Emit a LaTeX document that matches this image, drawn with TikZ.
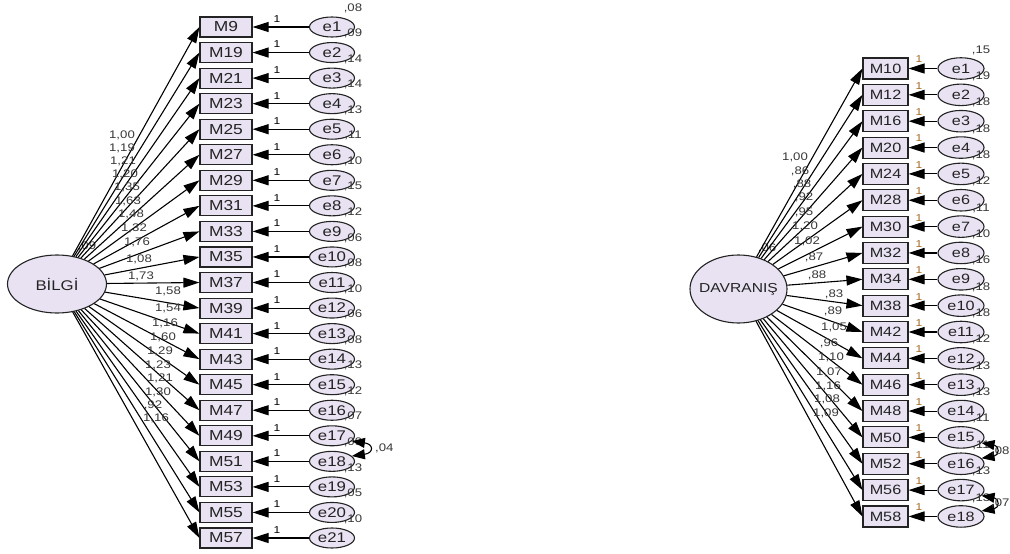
\documentclass[tikz,border=0pt]{standalone}
\usepackage{fontspec}
\setmainfont{Liberation Sans}[FakeStretch=1.2]
\usetikzlibrary{arrows.meta,shapes.geometric}
\definecolor{boxfill}{RGB}{233,226,243}
\definecolor{ink}{RGB}{35,35,35}
\definecolor{lab}{RGB}{55,55,55}
\definecolor{onecol}{RGB}{165,105,35}
\begin{document}
\begin{tikzpicture}[x=1pt,y=-1pt,
  obs/.style={draw=ink,line width=1.1pt,fill=boxfill,minimum width=52pt,minimum height=20pt,inner sep=0pt,text=ink,font=\fontsize{14.5}{14.5}\selectfont},
  obsr/.style={obs,minimum width=45pt,minimum height=21pt,font=\fontsize{13.5}{13.5}\selectfont},
  err/.style={ellipse,draw=ink,line width=1.1pt,fill=boxfill,minimum width=45pt,minimum height=20pt,inner sep=0pt,text=ink,font=\fontsize{14}{14}\selectfont},
  errr/.style={err,minimum width=46pt,minimum height=21.5pt,font=\fontsize{13.5}{13.5}\selectfont},
  lat/.style={ellipse,draw=ink,line width=1.1pt,fill=boxfill,inner sep=0pt,text=ink},
  reg/.style={-{Triangle[length=16pt,width=10pt]},line width=1.1pt,draw=black},
  cov/.style={{Triangle[length=13pt,width=10pt]}-{Triangle[length=13pt,width=10pt]},line width=1.1pt,draw=black},
  coef/.style={inner sep=0pt,text=lab,font=\fontsize{11}{11}\selectfont},
  one/.style={inner sep=0pt,text=black,font=\fontsize{10}{10}\selectfont},
  oner/.style={one,text=onecol},
  var/.style={inner sep=0pt,text=lab,font=\fontsize{11}{11}\selectfont}]
\useasboundingbox (0,0) rectangle (1010,554);

% ---------------- BİLGİ model ----------------
\node[lat,minimum width=99pt,minimum height=58pt,font=\fontsize{14}{14}\selectfont] (bilgi) at (57,284) {BİLGİ};
\node[var] (bilgiv) at (87,246) {,09};

\foreach \i/\m/\e/\v in {0/9/1/08,1/19/2/09,2/21/3/14,3/23/4/14,4/25/5/13,5/27/6/11,6/29/7/10,
  7/31/8/15,8/33/9/12,9/35/10/06,10/37/11/08,11/39/12/10,12/41/13/06,13/43/14/08,
  14/45/15/13,15/47/16/12,16/49/17/07,17/51/18/09,18/53/19/13,19/55/20/05,20/57/21/10}{
  \pgfmathsetmacro\yy{27+25.55*\i}
  \node[obs] (lm\i) at (226,\yy) {M\m};
  \node[err] (le\i) at (332,\yy) {e\e};
  \draw[reg] (bilgi) -- (lm\i.west);
  \draw[reg] (le\i) -- (lm\i);
  \node[one] (lo\i) at (277,\yy-8) {1};
  \node[var] (lv\i) at (353,\yy-19) {,\v};
}

\foreach \t/\x/\y [count=\k] in {{1,00}/122/135, {1,19}/122/148, {1,21}/123/161, {1,20}/125/174,
  {1,35}/127/187, {1,63}/128/201, {1,48}/131/214, {1,32}/134/228, {1,76}/137/242, {1,08}/139/259,
  {1,73}/141/276, {1,58}/168/291, {1,54}/168/308, {1,16}/165/323, {1,60}/163/337, {1,29}/160/351,
  {1,23}/158/365, {1,21}/160/378, {1,30}/158/392, {,92}/153/405, {1,16}/156/418}{
  \node[coef] (lc\k) at (\x,\y) {\t};
}

% covariance between e17 and e18
\draw[cov] (le16.-15) .. controls +(22,3) and +(22,-3) .. (le17.15);
\node[var,anchor=west] (lcov) at (375,448) {,04};

% ---------------- DAVRANIŞ model ----------------
\node[lat,minimum width=97pt,minimum height=68pt,font=\fontsize{13}{13}\selectfont,inner xsep=-14pt] (dav) at (738.5,289) {DAVRANIŞ};
\node[var] (davv) at (767,248) {,06};

\foreach \i/\m/\e/\v in {0/10/1/15,1/12/2/19,2/16/3/18,3/20/4/18,4/24/5/18,5/28/6/12,
  6/30/7/11,7/32/8/10,8/34/9/16,9/38/10/18,10/42/11/18,11/44/12/12,12/46/13/13,
  13/48/14/13,14/50/15/11,15/52/16/11,16/56/17/13,17/58/18/13}{
  \pgfmathsetmacro\yy{68.5+26.35*\i}
  \node[obsr] (rm\i) at (885.5,\yy) {M\m};
  \node[errr] (re\i) at (961,\yy) {e\e};
  \draw[reg] (dav) -- (rm\i.west);
  \draw[reg] (re\i) -- (rm\i);
  \node[oner] (ro\i) at (919,\yy-9) {1};
  \node[var] (rv\i) at (981,\yy-18.5) {,\v};
}

\foreach \t/\x/\y [count=\k] in {{1,00}/795/157, {,86}/800/171, {,88}/802/184, {,92}/804/197,
  {,95}/804/212, {1,20}/805/226, {1,02}/807/241, {,87}/814/257, {,88}/817/275, {,83}/834/294,
  {,89}/833/311, {1,05}/834/327, {,96}/829/343, {1,10}/831/357, {1,07}/829/372, {1,16}/828/386,
  {1,08}/827/399, {1,09}/826/413}{
  \node[coef] (rc\k) at (\x,\y) {\t};
}

% covariances e15-e16 and e17-e18
\draw[cov] (re14.-15) .. controls +(18,3) and +(18,-3) .. (re15.15);
\node[var,anchor=west] (rcov1) at (991,451) {,08};
\draw[cov] (re16.-15) .. controls +(18,3) and +(18,-3) .. (re17.15);
\node[var,anchor=west] (rcov2) at (991,503) {,07};
\end{tikzpicture}
\end{document}
